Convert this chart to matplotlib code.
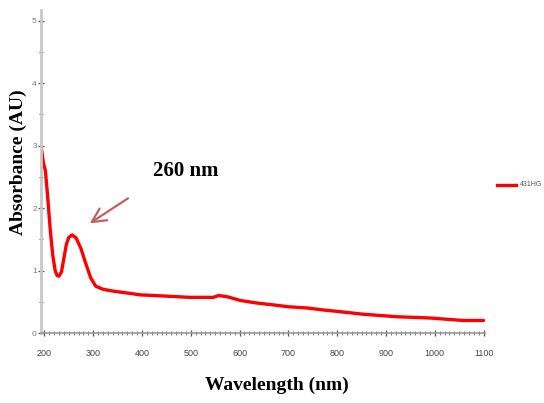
import matplotlib
matplotlib.use("Agg")
import matplotlib.pyplot as plt
from matplotlib.ticker import MultipleLocator

wavelength = [193, 198, 202, 207, 212, 217, 222, 226, 230, 235, 240, 245, 250, 257,
              265, 275, 284, 295, 305, 320, 341, 370, 397, 450, 499, 546, 557, 575,
              602, 635, 669, 700, 739, 770, 807, 854, 923, 991, 1059, 1100]
absorbance = [3.0, 2.72, 2.6, 2.15, 1.65, 1.25, 1.0, 0.92, 0.91, 0.98, 1.2, 1.42, 1.53, 1.57,
              1.52, 1.35, 1.13, 0.88, 0.75, 0.70, 0.67, 0.64, 0.61, 0.59, 0.57, 0.57, 0.60, 0.58,
              0.52, 0.48, 0.45, 0.42, 0.40, 0.37, 0.34, 0.30, 0.26, 0.24, 0.20, 0.20]
x_ticks = [200, 300, 400, 500, 600, 700, 800, 900, 1000, 1100]
y_ticks = [0, 1, 2, 3, 4, 5]
series_name = "431HG"
peak_label = "260 nm"

W, H = 544, 403
fig = plt.figure(figsize=(W / 100, H / 100), dpi=100)
ax = fig.add_axes([41 / W, (H - 333) / H, (485 - 41) / W, (333 - 10) / H])

ax.plot(wavelength, absorbance, color="#ff0000", lw=2.4, solid_capstyle="round")
ax.set_xlim(193, 1103)
ax.set_ylim(0, 5.17)

tick_font = ["Liberation Sans Narrow", "Liberation Sans", "DejaVu Sans"]
ax.set_xticks(x_ticks)
ax.set_xticklabels([str(v) for v in x_ticks], fontsize=6.5, color="#444444", family=tick_font)
ax.set_yticks(y_ticks)
ax.set_yticklabels([str(v) for v in y_ticks], fontsize=6, color="#777777", family=tick_font)
ax.xaxis.set_minor_locator(MultipleLocator(10))
ax.yaxis.set_minor_locator(MultipleLocator(0.5))
ax.tick_params(axis="x", which="major", direction="inout", length=5, width=0.9, color="#555555", pad=9)
ax.tick_params(axis="x", which="minor", direction="inout", length=3, width=0.6, color="#666666")
ax.tick_params(axis="y", which="major", direction="inout", length=4, width=0.9, color="#555555", pad=1)
ax.tick_params(axis="y", which="minor", direction="inout", length=3, width=0.8, color="#555555")

for s in ["top", "right"]:
    ax.spines[s].set_visible(False)
ax.spines["left"].set_color("#c8c8c8")
ax.spines["left"].set_linewidth(2)
ax.spines["bottom"].set_color("#999999")
ax.spines["bottom"].set_linewidth(1.2)

serif = ["Liberation Serif", "DejaVu Serif"]
fig.text(18 / W, 1 - 162 / H, "Absorbance (AU)", rotation=90, ha="center", va="center",
         fontsize=14, fontweight="bold", family=serif)
fig.text(277 / W, 1 - 385 / H, "Wavelength (nm)", ha="center", va="center",
         fontsize=14, fontweight="bold", family=serif)

ax.text(489, 2.6, peak_label, fontsize=15, fontweight="bold", family=serif,
        ha="center", va="center")
ax.annotate("", xy=(288, 1.73), xytext=(376, 2.18),
            arrowprops=dict(arrowstyle="->,head_length=1.0,head_width=0.5",
                            color="#c06060", lw=1.6))

# legend
fig.add_artist(plt.Line2D([497 / W, 516 / W], [1 - 185 / H, 1 - 185 / H],
                          color="#ff0000", lw=2.4, transform=fig.transFigure))
fig.text(520 / W, 1 - 185 / H, series_name, fontsize=5, color="#555555",
         ha="left", va="center", family=tick_font)

fig.savefig("out.png", dpi=100)
